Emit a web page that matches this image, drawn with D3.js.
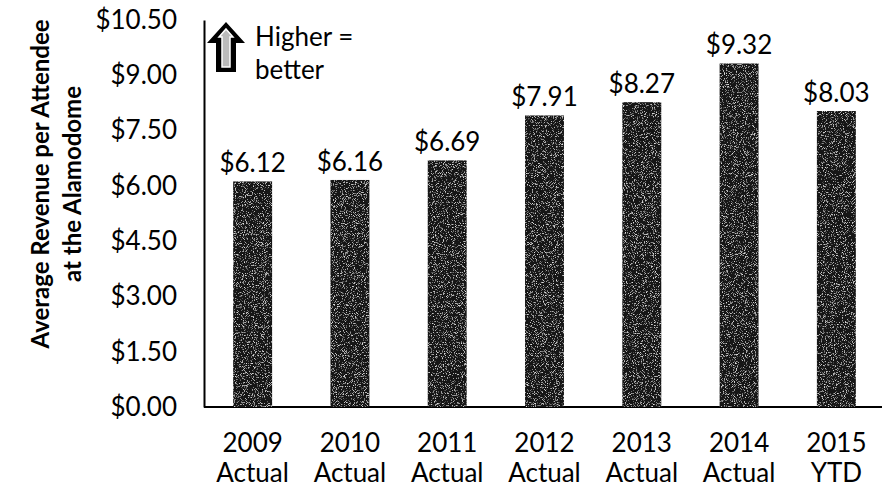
<!DOCTYPE html>
<html><head><meta charset="utf-8">
<script src="https://cdn.jsdelivr.net/npm/d3@7"></script>
<style>body{margin:0;background:#fff}svg{display:block}text{font-family:Lato,"Open Sans",sans-serif;fill:#000}</style>
</head><body><svg id="c" width="882" height="491"></svg>
<script>
const years = ["2009","2010","2011","2012","2013","2014","2015"];
const periods = ["Actual","Actual","Actual","Actual","Actual","Actual","YTD"];
const values = [6.12, 6.16, 6.69, 7.91, 8.27, 9.32, 8.03];
const yTicks = [0, 1.5, 3, 4.5, 6, 7.5, 9, 10.5];
const titleLines = ["Average Revenue per Attendee","at the Alamodome"];
const noteLines = ["Higher =","better"];

const svg = d3.select("#c");
const defs = svg.append("defs");
const f = defs.append("filter").attr("id","grain").attr("x",0).attr("y",0).attr("width",1).attr("height",1);
f.append("feTurbulence").attr("type","fractalNoise").attr("baseFrequency",1.1).attr("numOctaves",2).attr("seed",5).attr("result","n");
f.append("feColorMatrix").attr("in","n").attr("type","matrix")
 .attr("values","0 0 0 0 0.75  0 0 0 0 0.75  0 0 0 0 0.75  -4 0 0 0 1.75").attr("result","s");
f.append("feComposite").attr("in","s").attr("in2","SourceGraphic").attr("operator","in").attr("result","sp");
f.append("feMerge").call(m=>{m.append("feMergeNode").attr("in","SourceGraphic");m.append("feMergeNode").attr("in","sp");});

const x = d3.scaleBand().domain(years).range([204, 885]).paddingInner(0.6).paddingOuter(0.3);
const y = d3.scaleLinear().domain([0, 10.5]).range([407, 20]);

// y axis
const ya = svg.append("g").attr("transform","translate(204,0)")
  .call(d3.axisLeft(y).tickValues(yTicks).tickFormat(d=>"$"+d3.format(".2f")(d)).tickSize(0).tickPadding(27));
ya.select(".domain").attr("stroke","#000").attr("stroke-width",2);
ya.selectAll("text").style("font-size","26px").style("font-family","Lato, sans-serif");

// x axis baseline
svg.append("line").attr("x1",204).attr("x2",882).attr("y1",y(0)).attr("y2",y(0)).attr("stroke","#000").attr("stroke-width",2);

// bars
svg.append("g").selectAll("rect").data(values).join("rect")
  .attr("x",(d,i)=>x(years[i])).attr("width",x.bandwidth())
  .attr("y",d=>y(d)).attr("height",d=>y(0)-y(d))
  .attr("fill","#141414").attr("filter","url(#grain)");

// value labels
svg.append("g").selectAll("text").data(values).join("text")
  .attr("x",(d,i)=>x(years[i])+x.bandwidth()/2).attr("y",d=>y(d)-9)
  .attr("text-anchor","middle").style("font-size","26px").text(d=>"$"+d.toFixed(2));

// category labels
const cl = svg.append("g").selectAll("text").data(years).join("text")
  .attr("x",d=>x(d)+x.bandwidth()/2).attr("text-anchor","middle").style("font-size","26px");
cl.append("tspan").attr("y",452).attr("x",d=>x(d)+x.bandwidth()/2).text(d=>d);
cl.append("tspan").attr("y",482).attr("x",d=>x(d)+x.bandwidth()/2).text((d,i)=>periods[i]);

// y title
const t = svg.append("text").attr("transform","translate(49,184) rotate(-90)").attr("text-anchor","middle")
  .style("font-size","24px").style("font-weight","bold");
t.append("tspan").attr("x",0).attr("y",0).text(titleLines[0]);
t.append("tspan").attr("x",0).attr("y",32).text(titleLines[1]);

// arrow icon
const ag = svg.append("g").attr("transform","translate(206,22)");
ag.append("path").attr("d","M20 0 L39 21 L30 21 L30 50 L10 50 L10 21 L1 21 Z").attr("fill","#000");
ag.append("path").attr("d","M20 7 L27 15 L24 15 L24 45 L16 45 L16 15 L13 15 Z").attr("fill","#bbb").attr("stroke","#fff").attr("stroke-width",1.5);

// note
const n = svg.append("text").style("font-size","26px");
n.append("tspan").attr("x",255).attr("y",46).text(noteLines[0]);
n.append("tspan").attr("x",255).attr("y",79).text(noteLines[1]);
</script></body></html>
